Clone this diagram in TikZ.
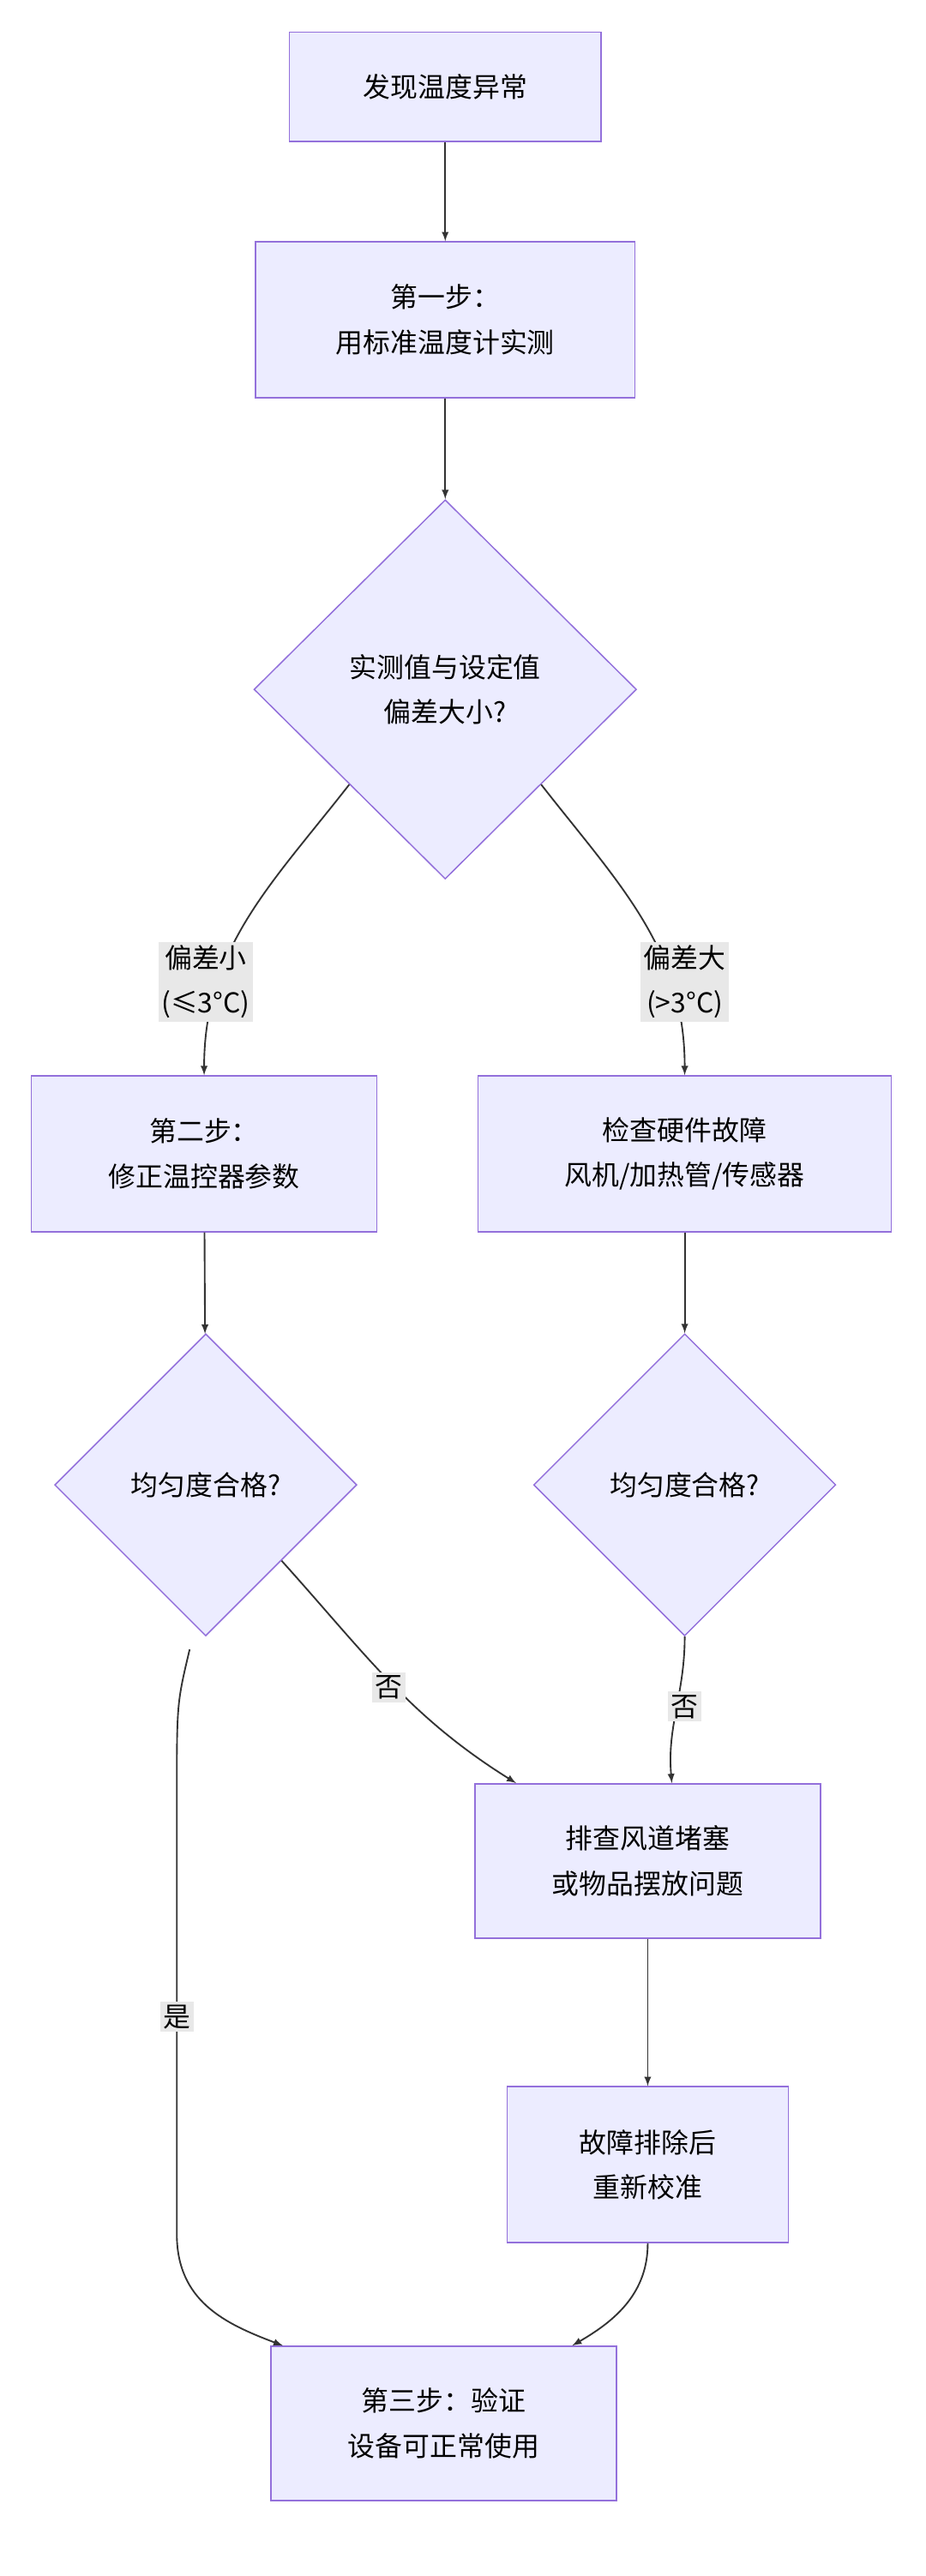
\documentclass[tikz,border=0pt]{standalone}
\usepackage{fontspec}
\setmainfont{Noto Sans CJK SC}
\usetikzlibrary{shapes.geometric,arrows}
\definecolor{boxfill}{HTML}{ECECFF}
\definecolor{boxline}{HTML}{9370DB}
\definecolor{edgecol}{HTML}{333333}
\definecolor{lblfill}{HTML}{E8E8E8}
\tikzset{>=latex}
\begin{document}
\begin{tikzpicture}[x=1pt,y=-1pt]
  % box = process step, dec = decision, lbl = edge label
  \tikzset{box/.style={rectangle, draw=boxline, fill=boxfill, line width=0.8pt, align=center, font=\fontsize{17}{28}\selectfont},
           dec/.style={diamond, draw=boxline, fill=boxfill, line width=0.8pt, align=center, inner sep=0pt, font=\fontsize{17}{28}\selectfont},
           lbl/.style={fill=lblfill, inner sep=2pt, align=center, font=\fontsize{17}{28}\selectfont},
           link/.style={draw=edgecol, ->, line width=1pt},
           every edge/.style={link}}
  \useasboundingbox (0,0) rectangle (576,1603);
  \node[box, minimum width=194pt, minimum height=68pt] (A) at (277,54) {发现温度异常};
  \node[box, minimum width=236pt, minimum height=97pt] (B) at (277,199) {第一步：\\用标准温度计实测};
  \node[dec, minimum width=238pt, minimum height=236pt] (D1) at (277,429) {实测值与设定值\\偏差大小?};
  \node[box, minimum width=215pt, minimum height=97pt] (C) at (127,718) {第二步：\\修正温控器参数};
  \node[box, minimum width=257pt, minimum height=97pt] (E) at (426,718) {检查硬件故障\\风机/加热管/传感器};
  \node[dec, minimum width=188pt, minimum height=188pt] (D2) at (128,924) {均匀度合格?};
  \node[dec, minimum width=188pt, minimum height=188pt] (D3) at (426,924) {均匀度合格?};
  \node[box, minimum width=215pt, minimum height=96pt] (F) at (403,1158) {排查风道堵塞\\或物品摆放问题};
  \node[box, minimum width=175pt, minimum height=97pt] (G) at (403,1347) {故障排除后\\重新校准};
  \node[box, minimum width=215pt, minimum height=96pt] (H) at (276,1508) {第三步：验证\\设备可正常使用};

  \draw (A) edge (B);
  \draw (B) edge (D1);
  \draw (D1.south west) edge[out=-128,in=90] (C.north);
  \draw (D1.south east) edge[out=-52,in=90] (E.north);
  \draw (C) edge (D2);
  \draw (E) edge (D3);
  \draw (D2.south east) edge[out=-48,in=148] ([xshift=26pt]F.north west);
  \draw (D3.south) edge[out=-90,in=95] ([xshift=15pt]F.north);
  \draw (F) edge (G);
  \draw[link] ([xshift=-10pt,yshift=-8pt]D2.south) .. controls (110,1060) .. (110,1120)
     -- (110,1390) .. controls (110,1432) and (140,1446) .. ([xshift=-100pt]H.north);
  \draw (G.south) edge[out=-90,in=30] ([xshift=80pt]H.north);

  \node[lbl] (l1) at (128,611) {偏差小\\(≤3°C)};
  \node[lbl] (l2) at (426,611) {偏差大\\(>3°C)};
  \node[lbl] (l3) at (242,1050) {否};
  \node[lbl] (l4) at (426,1062) {否};
  \node[lbl] (l5) at (110,1255) {是};
\end{tikzpicture}
\end{document}
